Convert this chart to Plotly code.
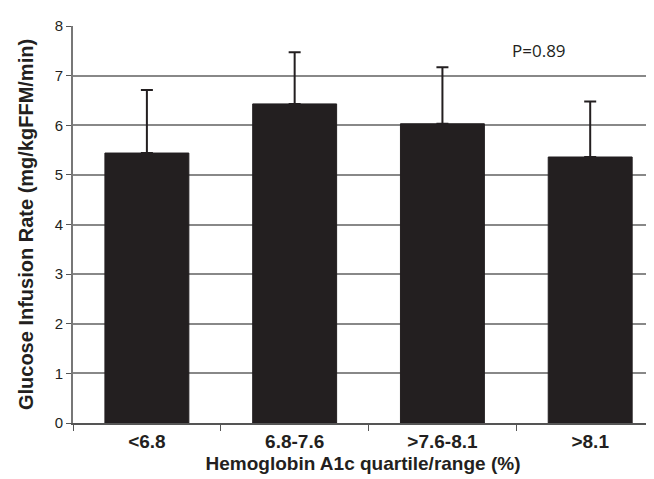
import plotly.graph_objects as go

categories = ["<6.8", "6.8-7.6", ">7.6-8.1", ">8.1"]
values = [5.44, 6.43, 6.03, 5.36]
errors = [1.27, 1.04, 1.14, 1.12]
y_ticks = [0, 1, 2, 3, 4, 5, 6, 7, 8]

fig = go.Figure()
fig.add_trace(go.Bar(
    x=categories, y=values,
    marker=dict(color="#231f20", line=dict(color="#231f20", width=1)),
    width=0.568,
    error_y=dict(type="data", array=errors, arrayminus=[0]*len(errors), symmetric=False,
                 color="#231f20", thickness=2, width=6),
))

fig.add_annotation(x=2.654, xref="x", y=7.50, yref="y", text="P=0.89",
                   showarrow=False, font=dict(family="Open Sans", size=17, color="#231f20"))

fig.add_shape(type="line", xref="paper", yref="y", x0=1, x1=1, y0=0, y1=8,
              line=dict(color="#888888", width=2))

fig.update_layout(
    width=654, height=479,
    margin=dict(l=65, r=9, t=16, b=64),
    plot_bgcolor="white", paper_bgcolor="white",
    showlegend=False,
    font=dict(family="Liberation Sans, Arial", color="#231f20"),
    xaxis=dict(
        type="category", range=[-0.5, 3.425], tickson="boundaries", ticks="outside", ticklen=6,
        tickcolor="#555", showline=True, linecolor="#555", linewidth=1.5,
        showgrid=False,
        tickfont=dict(family="Liberation Sans, Arial", size=19, color="#231f20", weight="bold"),
        title=dict(text="<b>Hemoglobin A1c quartile/range (%)</b>", standoff=6,
                   font=dict(family="Liberation Sans, Arial", size=19, color="#231f20")),
    ),
    yaxis=dict(
        range=[0, 8], tickvals=y_ticks, ticks="outside", ticklen=5, tickcolor="#555",
        showline=True, linecolor="#777", linewidth=2,
        showgrid=True, gridcolor="#888888", gridwidth=2, zeroline=False,
        tickfont=dict(family="Liberation Sans, Arial", size=15, color="#231f20"),
        title=dict(text="<b>Glucose Infusion Rate (mg/kgFFM/min)</b>", standoff=16,
                   font=dict(family="Liberation Sans, Arial", size=20, color="#231f20")),
    ),
)

fig.write_html("out.html")
